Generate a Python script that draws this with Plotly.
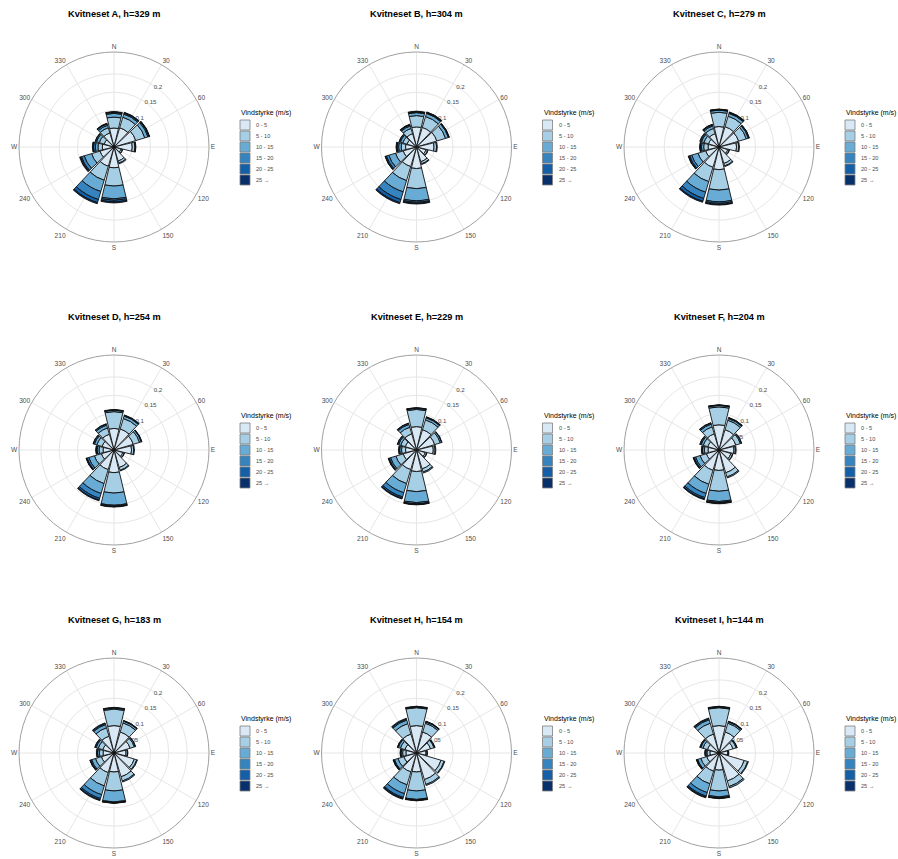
import numpy as np
import plotly.graph_objects as go

# Wind direction sectors (degrees, clockwise from north) and their labels
directions = [0, 30, 60, 90, 120, 150, 180, 210, 240, 270, 300, 330]
direction_labels = ["N", "30", "60", "E", "120", "150", "S", "210", "240", "W", "300", "330"]

# Wind speed classes and fill colours
speed_bins = ["0 - 5", "5 - 10", "10 - 15", "15 - 20", "20 - 25", "25 \u2192"]
bin_colors = ["#d9e8f5", "#a6cee4", "#68abd5", "#3584bf", "#1460a8", "#08306b"]

radial_ticks = [0.05, 0.1, 0.15, 0.2]
radial_tick_text = ["0.05", "0.1", "0.15", "0.2"]

site_names = ["A", "B", "C", "D", "E", "F", "G", "H", "I"]
site_heights = [329, 304, 279, 254, 229, 204, 183, 154, 144]

# Relative frequency per direction sector (rows: N, 30, ..., 330),
# split over the six speed classes (columns: 0-5, ..., 25+)
site_A = [
    [.052, .030, .010, .003, .001, .001],
    [.055, .030, .009, .003, .001, .001],
    [.062, .026, .009, .003, .001, .001],
    [.050, .007, .002, .001, .000, .000],
    [.020, .004, .001, .000, .000, .000],
    [.040, .006, .002, .000, .000, .000],
    [.057, .050, .035, .004, .004, .003],
    [.055, .040, .032, .023, .009, .003],
    [.040, .024, .021, .008, .003, .002],
    [.032, .012, .007, .005, .002, .001],
    [.028, .014, .008, .003, .001, .000],
    [.040, .015, .007, .004, .001, .001],
]
site_B = [
    [.055, .031, .008, .002, .001, .001],
    [.056, .031, .009, .002, .001, .001],
    [.058, .025, .008, .002, .001, .000],
    [.048, .007, .002, .000, .000, .000],
    [.027, .005, .001, .000, .000, .000],
    [.042, .006, .002, .000, .000, .000],
    [.059, .055, .033, .004, .003, .002],
    [.056, .040, .032, .022, .009, .003],
    [.038, .022, .019, .007, .003, .001],
    [.030, .012, .007, .004, .002, .001],
    [.027, .012, .007, .003, .001, .000],
    [.038, .015, .007, .003, .001, .001],
]
site_C = [
    [.056, .039, .006, .001, .001, .001],
    [.058, .030, .008, .002, .001, .001],
    [.056, .022, .006, .002, .001, .000],
    [.048, .006, .002, .000, .000, .000],
    [.025, .004, .001, .000, .000, .000],
    [.047, .007, .002, .000, .000, .000],
    [.062, .056, .032, .004, .003, .002],
    [.058, .041, .030, .018, .008, .003],
    [.038, .022, .018, .006, .003, .001],
    [.030, .012, .006, .003, .001, .001],
    [.030, .013, .007, .003, .002, .000],
    [.038, .015, .007, .003, .001, .001],
]
site_D = [
    [.059, .046, .004, .001, .001, .000],
    [.060, .030, .007, .002, .001, .000],
    [.055, .018, .005, .001, .001, .000],
    [.048, .006, .002, .000, .000, .000],
    [.025, .004, .001, .000, .000, .000],
    [.050, .008, .002, .000, .000, .000],
    [.062, .056, .033, .002, .002, .001],
    [.056, .040, .028, .014, .005, .002],
    [.036, .020, .016, .005, .002, .001],
    [.030, .011, .005, .002, .001, .001],
    [.034, .015, .007, .003, .001, .000],
    [.045, .018, .008, .003, .001, .000],
]
site_E = [
    [.064, .047, .003, .001, .001, .000],
    [.058, .028, .006, .002, .001, .000],
    [.052, .016, .004, .001, .000, .000],
    [.046, .005, .002, .000, .000, .000],
    [.025, .004, .001, .000, .000, .000],
    [.054, .009, .003, .000, .000, .000],
    [.059, .055, .030, .003, .002, .001],
    [.056, .040, .026, .012, .004, .002],
    [.038, .021, .015, .004, .002, .001],
    [.030, .011, .005, .002, .001, .000],
    [.032, .013, .006, .003, .001, .000],
    [.046, .019, .008, .003, .001, .000],
]
site_F = [
    [.069, .049, .004, .001, .001, .000],
    [.058, .027, .005, .002, .001, .000],
    [.048, .013, .003, .001, .000, .000],
    [.041, .004, .002, .000, .000, .000],
    [.034, .005, .001, .000, .000, .000],
    [.065, .012, .003, .000, .000, .000],
    [.056, .057, .028, .003, .002, .001],
    [.058, .040, .026, .012, .004, .002],
    [.036, .018, .013, .004, .002, .001],
    [.030, .010, .005, .002, .001, .000],
    [.032, .013, .006, .003, .001, .000],
    [.046, .020, .008, .003, .001, .000],
]
site_G = [
    [.075, .045, .003, .001, .001, .000],
    [.060, .026, .005, .001, .001, .000],
    [.046, .012, .003, .001, .000, .000],
    [.033, .004, .001, .000, .000, .000],
    [.058, .007, .002, .000, .000, .000],
    [.068, .012, .003, .000, .000, .000],
    [.052, .052, .030, .002, .001, .001],
    [.056, .038, .025, .011, .004, .002],
    [.036, .017, .011, .003, .001, .001],
    [.030, .010, .005, .002, .001, .000],
    [.032, .013, .006, .003, .001, .000],
    [.048, .024, .009, .003, .002, .000],
]
site_H = [
    [.075, .049, .002, .001, .001, .000],
    [.060, .025, .004, .001, .001, .000],
    [.040, .010, .002, .001, .000, .000],
    [.026, .003, .001, .000, .000, .000],
    [.070, .009, .002, .000, .000, .000],
    [.076, .014, .003, .000, .000, .000],
    [.052, .052, .023, .002, .001, .001],
    [.054, .037, .025, .011, .003, .002],
    [.036, .017, .010, .002, .001, .001],
    [.029, .009, .004, .002, .001, .000],
    [.033, .013, .006, .002, .001, .000],
    [.054, .030, .010, .003, .002, .000],
]
site_I = [
    [.075, .049, .002, .001, .001, .000],
    [.060, .025, .004, .001, .001, .000],
    [.040, .009, .002, .001, .000, .000],
    [.024, .002, .001, .000, .000, .000],
    [.072, .010, .002, .000, .000, .000],
    [.080, .016, .004, .000, .000, .000],
    [.047, .057, .016, .003, .001, .001],
    [.052, .036, .025, .010, .003, .002],
    [.035, .017, .009, .002, .001, .001],
    [.025, .008, .003, .002, .001, .000],
    [.033, .013, .006, .002, .001, .000],
    [.054, .031, .010, .003, .002, .000],
]
site_tables = [site_A, site_B, site_C, site_D, site_E, site_F, site_G, site_H, site_I]

# Page geometry (pixels)
FIG_W, FIG_H = 898, 859
ROSE_R = 95                      # radius of each rose
COL_X = [114, 416.5, 719]        # rose centres
ROW_Y = [147, 450, 753]
R_MAX = 0.26

FONT = "Liberation Sans, Arial, Helvetica, sans-serif"
TEXT_GREY = "#4d4d4d"
GRID = "#e6e6e6"

fig = go.Figure()
annotations = []
shapes = []


def px_x(x):
    return x / FIG_W


def px_y(y):
    return 1 - y / FIG_H


for k, (name, height, table) in enumerate(zip(site_names, site_heights, site_tables)):
    row, col = divmod(k, 3)
    cx, cy = COL_X[col], ROW_Y[row]
    subplot = "polar" if k == 0 else f"polar{k + 1}"
    freq = np.array(table).T  # speed class x direction

    for b, label in enumerate(speed_bins):
        fig.add_trace(go.Barpolar(
            r=freq[b], theta=directions, width=27, name=label,
            marker=dict(color=bin_colors[b], line=dict(color="#111111", width=0.9)),
            subplot=subplot, showlegend=False,
        ))

    fig.update_layout({subplot: dict(
        domain=dict(x=[px_x(cx - ROSE_R), px_x(cx + ROSE_R)],
                    y=[px_y(cy + ROSE_R), px_y(cy - ROSE_R)]),
        bgcolor="white",
        barmode="stack",
        angularaxis=dict(
            rotation=90, direction="clockwise",
            tickmode="array", tickvals=directions, ticktext=direction_labels,
            ticks="", showline=True, linecolor="#a0a0a0", linewidth=1,
            showgrid=True, gridcolor=GRID, gridwidth=1,
            tickfont=dict(family=FONT, size=6.6, color=TEXT_GREY),
            layer="below traces",
        ),
        radialaxis=dict(
            range=[0, R_MAX], angle=60, side="clockwise",
            tickmode="array", tickvals=radial_ticks, ticktext=radial_tick_text,
            ticks="", showline=False, tickangle=60,
            showgrid=True, gridcolor=GRID, gridwidth=1,
            tickfont=dict(family=FONT, size=6.2, color=TEXT_GREY),
            layer="below traces",
        ),
    )})

    # panel title
    annotations.append(dict(
        x=px_x(cx), y=px_y(cy - 133), xref="paper", yref="paper",
        text=f"<b>Kvitneset {name}, h={height} m</b>", showarrow=False,
        font=dict(family=FONT, size=9.2, color="black"),
        xanchor="center", yanchor="middle",
    ))

    # speed-class key
    lx = cx + 126
    annotations.append(dict(
        x=px_x(lx - 1), y=px_y(cy - 34), xref="paper", yref="paper",
        text="Vindstyrke (m/s)", showarrow=False,
        font=dict(family=FONT, size=7, color="black"),
        xanchor="left", yanchor="middle",
    ))
    for b, label in enumerate(speed_bins):
        ky = cy - 22 + 11 * b
        shapes.append(dict(
            type="rect", xref="paper", yref="paper",
            x0=px_x(lx), x1=px_x(lx + 10), y0=px_y(ky + 5), y1=px_y(ky - 5),
            fillcolor=bin_colors[b], line=dict(color="#7f7f7f", width=0.8),
        ))
        annotations.append(dict(
            x=px_x(lx + 14), y=px_y(ky), xref="paper", yref="paper",
            text=label, showarrow=False,
            font=dict(family=FONT, size=5.6, color=TEXT_GREY),
            xanchor="left", yanchor="middle",
        ))

fig.update_layout(
    width=FIG_W, height=FIG_H,
    margin=dict(l=0, r=0, t=0, b=0),
    paper_bgcolor="white", plot_bgcolor="white",
    annotations=annotations, shapes=shapes,
    showlegend=False,
)

fig.write_html("out.html")
